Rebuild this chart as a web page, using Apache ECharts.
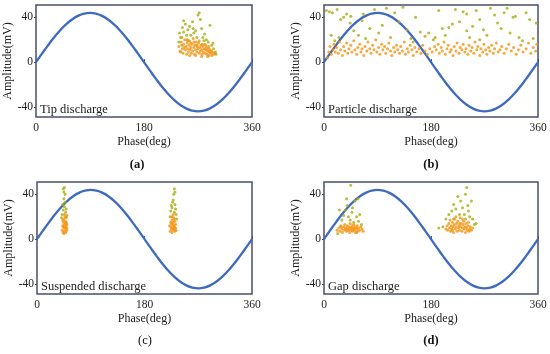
<!DOCTYPE html>
<html><head><meta charset="utf-8">
<script src="https://cdn.jsdelivr.net/npm/echarts@6/dist/echarts.min.js"></script>
<style>html,body{margin:0;padding:0;background:#fff}#c{width:550px;height:354px}</style>
</head><body><div id="c"></div>
<script>
// Reference voltage curve (sampled every 10 deg)
const phaseTicks = [0,10,20,30,40,50,60,70,80,90,100,110,120,130,140,150,160,170,180,190,200,210,220,230,240,250,260,270,280,290,300,310,320,330,340,350,360];
const sineAmp = [0,7.6,15,22,28.3,33.7,38.1,41.3,43.3,44,43.3,41.3,38.1,33.7,28.3,22,15,7.6,0,-7.6,-15,-22,-28.3,-33.7,-38.1,-41.3,-43.3,-44,-43.3,-41.3,-38.1,-33.7,-28.3,-22,-15,-7.6,0];
const xTickLabels = [0,180,360];
const yTickLabels = [-40,0,40];
const panelTitles = ['Tip discharge','Particle discharge','Suspended discharge','Gap discharge'];
const panelLetters = ['(a)','(b)','(c)','(d)'];

// (a) Tip discharge
const tipDense = [[238,14],[240,10],[242,18],[244,12],[245,8],[246,16],[248,20],[249,11],[250,14],[251,7],[252,17],[253,12],[254,9],[255,15],[256,19],[257,11],[258,13],[259,8],[260,16],[261,10],[262,21],[263,13],[264,7],[265,15],[266,11],[267,18],[268,9],[269,14],[270,12],[271,17],[272,8],[273,13],[274,10],[275,15],[276,11],[277,7],[278,14],[279,9],[280,12],[281,16],[282,8],[283,11],[284,13],[285,7],[286,10],[287,12],[288,6],[289,9],[290,11],[291,8],[292,10],[293,6],[294,9],[296,7],[298,8],[243,22],[247,13],[253,19],[258,17],[263,18],[268,15],[272,19],[277,16],[283,15],[288,14],[241,9],[256,6],[266,6],[276,5],[286,5]];
const tipSparse = [[239,26],[241,22],[244,31],[246,27],[249,34],[251,24],[253,29],[256,32],[258,24],[261,36],[263,26],[266,28],[268,22],[270,42],[272,44],[274,38],[276,30],[278,22],[281,25],[284,20],[287,18],[290,33],[293,15],[296,12],[299,9],[300,7],[246,37],[252,20],[262,30],[280,19],[295,17],[238,18],[243,15]];

// (b) Particle discharge
const particleDense = [[6,4],[8,9],[10,14],[12,7],[15,11],[17,16],[19,9],[21,13],[24,8],[26,18],[28,11],[31,6],[33,14],[35,10],[38,17],[40,8],[42,12],[45,15],[47,9],[50,19],[52,11],[55,7],[57,13],[60,16],[62,9],[64,12],[67,6],[69,14],[72,10],[74,18],[77,12],[79,8],[82,15],[84,11],[87,20],[89,9],[92,13],[94,7],[97,16],[99,11],[102,14],[104,8],[107,12],[109,17],[112,10],[114,6],[117,13],[119,9],[122,15],[124,11],[127,8],[129,14],[132,10],[135,18],[137,7],[140,12],[142,9],[145,15],[148,11],[150,6],[153,13],[156,9],[160,12],[163,8],[166,15],[170,10],[174,7],[178,12],[182,9],[186,14],[189,11],[192,16],[194,8],[197,13],[199,10],[202,18],[204,7],[207,12],[209,15],[212,9],[214,11],[217,6],[219,14],[222,10],[224,17],[227,8],[229,13],[232,11],[234,16],[237,9],[239,12],[242,7],[244,15],[247,10],[249,13],[252,8],[254,18],[257,11],[259,14],[262,6],[264,12],[267,9],[269,16],[272,11],[274,7],[277,13],[279,10],[282,15],[285,8],[287,12],[290,17],[293,9],[296,11],[299,14],[303,8],[307,12],[311,16],[315,10],[319,13],[323,7],[327,11],[331,15],[335,9],[340,12],[344,17],[348,8],[352,13],[356,10],[358,16]];
const particleSparse = [[4,46],[9,45],[14,44],[22,47],[28,38],[33,40],[38,43],[44,35],[50,28],[58,24],[64,37],[70,21],[77,30],[85,47],[92,26],[98,33],[105,48],[112,22],[119,44],[126,36],[133,49],[140,29],[146,21],[154,40],[162,27],[170,23],[176,26],[184,20],[193,46],[199,30],[204,24],[210,31],[216,34],[221,47],[228,36],[234,45],[240,28],[245,22],[250,32],[256,46],[262,38],[268,29],[274,24],[280,48],[287,42],[292,35],[298,30],[303,44],[308,48],[313,26],[318,40],[322,41],[328,22],[334,19],[340,44],[346,38],[352,21],[357,35],[12,24],[18,19],[25,22],[45,41],[66,43],[150,18],[187,22],[240,43],[262,20]];

// (c) Suspended discharge
const suspendedDense = [[42,8],[43,12],[44,6],[44,15],[45,10],[45,18],[46,13],[46,7],[47,11],[47,16],[48,9],[48,14],[49,12],[49,19],[50,8],[50,10],[43,17],[45,5],[47,20],[49,15],[46,22],[44,11],[48,6],[50,13],
  [223,7],[224,11],[225,9],[225,14],[226,6],[226,17],[227,10],[227,13],[228,8],[228,15],[229,12],[229,19],[230,9],[230,11],[231,16],[231,7],[232,13],[232,10],[224,15],[226,20],[228,22],[230,18],[233,8],[222,12]];
const suspendedSparse = [[42,22],[44,26],[46,29],[48,24],[43,31],[47,33],[45,42],[44,45],[46,46],[47,40],[49,27],[41,19],[50,21],[45,36],
  [224,25],[226,28],[228,35],[230,24],[232,27],[233,22],[229,40],[230,45],[231,42],[227,33],[223,20],[234,18],[225,30],[231,31]];

// (d) Gap discharge
const gapDense = [[22,8],[25,10],[27,7],[28,12],[30,9],[31,6],[33,11],[34,8],[35,13],[37,10],[38,7],[39,12],[40,9],[42,11],[43,6],[44,14],[45,8],[46,10],[47,12],[48,7],[49,9],[50,13],[51,8],[52,11],[53,6],[54,10],[55,9],[56,12],[57,7],[58,10],[60,8],[62,11],[64,9],[66,7],[36,9],[41,8],[50,10],[55,6],[29,11],[44,10],
  [205,9],[207,12],[208,8],[210,14],[211,10],[212,17],[213,7],[214,12],[215,9],[216,15],[217,11],[218,6],[219,13],[220,18],[221,9],[222,11],[223,14],[224,7],[225,16],[226,10],[227,12],[228,8],[229,19],[230,11],[231,14],[232,7],[233,10],[234,13],[235,16],[236,9],[237,11],[238,6],[239,14],[240,10],[241,8],[242,12],[243,15],[244,7],[245,9],[246,11],[248,8],[250,10],[222,20],[233,18],[216,8],[228,14],[238,18]];
const gapSparse = [[23,5],[26,26],[30,17],[33,21],[36,26],[39,30],[41,20],[44,17],[45,48],[47,24],[50,15],[52,34],[55,20],[58,16],[60,22],[63,13],[38,36],[48,28],[57,36],
  [193,10],[200,11],[205,18],[210,22],[215,25],[218,31],[222,27],[225,38],[228,22],[230,34],[233,28],[236,22],[238,40],[240,46],[242,30],[245,20],[248,34],[250,18],[253,13],[256,14],[218,18],[243,25]];

const denseSets = [tipDense, particleDense, suspendedDense, gapDense];
const sparseSets = [tipSparse, particleSparse, suspendedSparse, gapSparse];

const FONT = '"Liberation Serif","Times New Roman",serif';
const grids = [
  {left:36, top:5, width:216, height:112},
  {left:324, top:5, width:214, height:112},
  {left:37, top:182, width:215, height:112},
  {left:324, top:182, width:214, height:112}
];
const letterPos = [[137,158],[431,158],[145,334],[431,334]];
const sine = phaseTicks.map((p,i)=>[p, sineAmp[i]]);
const frame = '#47506e';

const option = {
  animation:false,
  backgroundColor:'#fff',
  grid: grids.map(g=>Object.assign({show:true, borderColor:frame, borderWidth:1.5, backgroundColor:'#fff', containLabel:false}, g)),
  xAxis: grids.map((g,i)=>({
    gridIndex:i, type:'value', min:0, max:360, interval:180,
    name:'Phase(deg)', nameLocation:'middle', nameGap:19,
    nameTextStyle:{fontFamily:FONT, fontSize:12, color:'#222'},
    axisLine:{show:false}, splitLine:{show:false},
    axisTick:{show:true, inside:true, length:3, lineStyle:{color:frame}},
    axisLabel:{fontFamily:FONT, fontSize:11.5, color:'#222', margin:5, customValues:xTickLabels}
  })),
  yAxis: grids.map((g,i)=>({
    gridIndex:i, type:'value', min:-49, max:51,
    name:'Amplitude(mV)', nameLocation:'middle', nameGap:22,
    nameTextStyle:{fontFamily:FONT, fontSize:12, color:'#222'},
    axisLine:{show:false}, splitLine:{show:false},
    axisTick:{show:true, inside:false, length:2, lineStyle:{color:frame}, customValues:yTickLabels},
    axisLabel:{fontFamily:FONT, fontSize:11.5, color:'#222', margin:3, customValues:yTickLabels}
  })),
  graphic: [].concat(
    grids.map((g,i)=>({type:'text', left:g.left+4, top:g.top+g.height-14, z:100,
      style:{text:panelTitles[i], font:'12.5px '+FONT, fill:'#222'}})),
    letterPos.map((p,i)=>({type:'text', x:p[0], y:p[1], z:100,
      style:{text:panelLetters[i], font:(i===2?'':'bold ')+'12.5px '+FONT, fill:'#111', textAlign:'center'}}))
  ),
  series: [].concat(...grids.map((g,i)=>[
    {type:'line', xAxisIndex:i, yAxisIndex:i, data:sine, smooth:true, showSymbol:false,
      lineStyle:{color:'#3f6bbf', width:2.3}, z:2},
    {type:'scatter', xAxisIndex:i, yAxisIndex:i, data:sparseSets[i], symbolSize:3,
      itemStyle:{color:'#a8ad12'}, z:3},
    {type:'scatter', xAxisIndex:i, yAxisIndex:i, data:denseSets[i], symbolSize:3,
      itemStyle:{color:'#f29410'}, z:4}
  ]))
};
const chart = echarts.init(document.getElementById('c'), null, {renderer:'canvas'});
chart.setOption(option);
</script></body></html>
